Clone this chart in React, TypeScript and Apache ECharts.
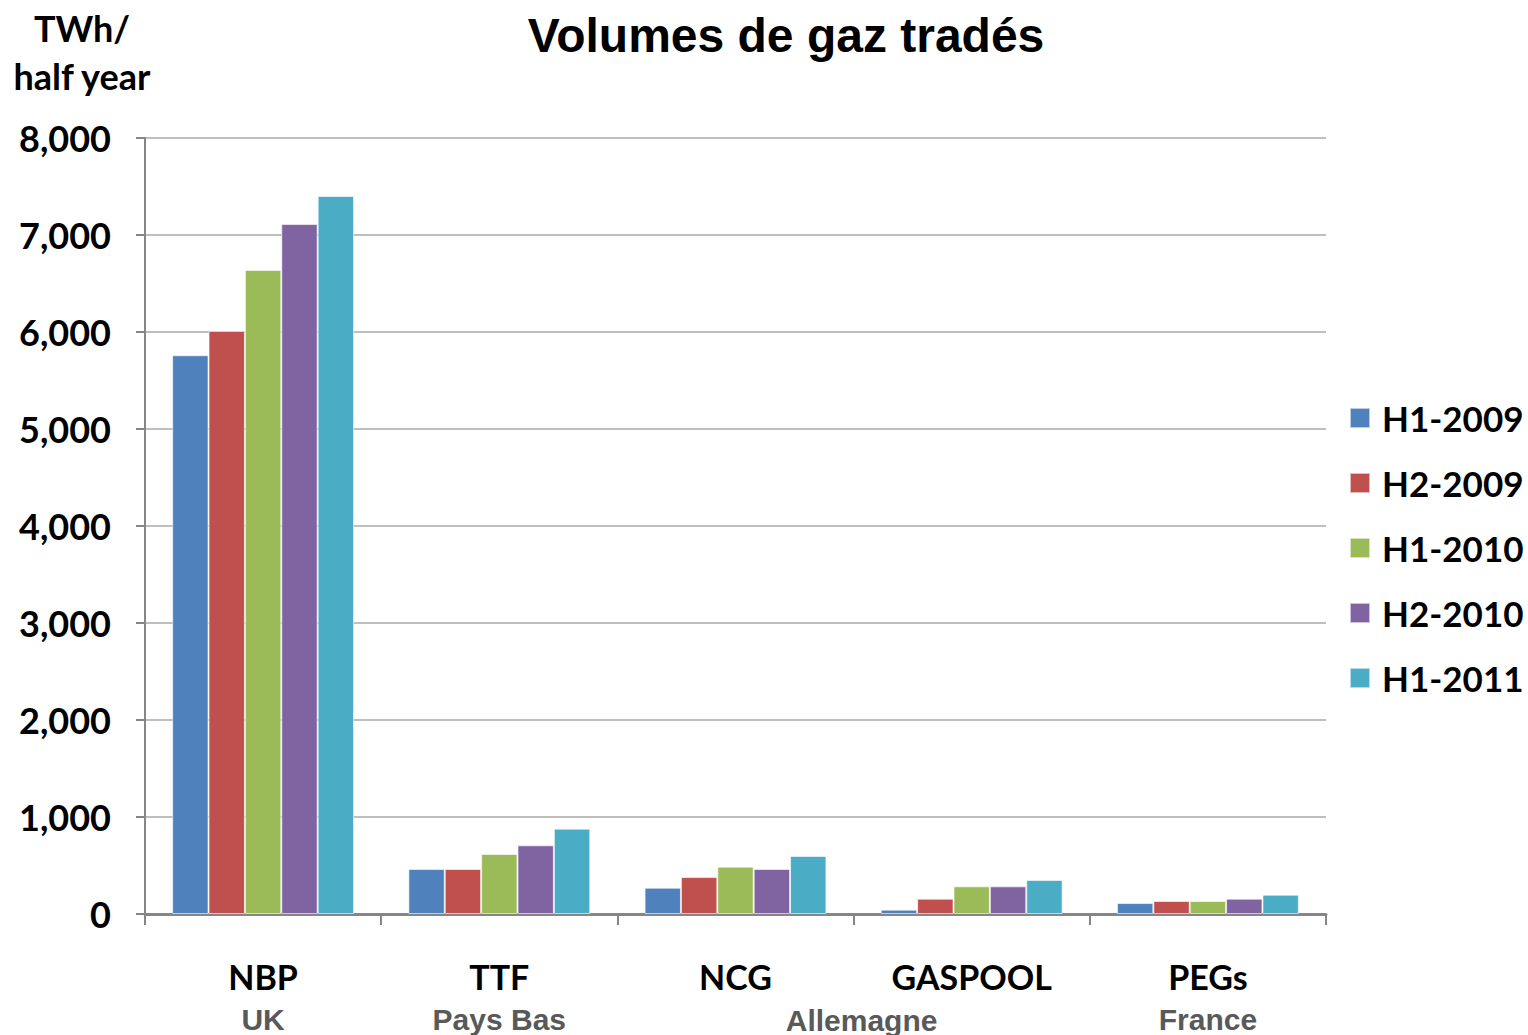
import React, { useEffect, useRef } from "react";
import * as echarts from "echarts";

const categories = ["NBP", "TTF", "NCG", "GASPOOL", "PEGs"];
const countries = ["UK", "Pays Bas", "", "", "France"];
const sharedCountry = "Allemagne";
const seriesNames = ["H1-2009", "H2-2009", "H1-2010", "H2-2010", "H1-2011"];
const colors = ["#4F81BD", "#C0504D", "#9BBB59", "#8064A2", "#4BACC6"];
const h1_2009 = [5760, 464, 271, 45, 113];
const h2_2009 = [6010, 464, 381, 158, 134];
const h1_2010 = [6640, 619, 488, 285, 134];
const h2_2010 = [7113, 708, 464, 285, 158];
const h1_2011 = [7402, 880, 598, 350, 199];
const seriesValues = [h1_2009, h2_2009, h1_2010, h2_2010, h1_2011];
const yTicks = { min: 0, max: 8000, interval: 1000 };

const bodyFont = "Lato, 'Open Sans', sans-serif";
const subFont = "'Liberation Sans Narrow', 'Liberation Sans', Arial, sans-serif";

export default function App() {
  const ref = useRef<HTMLDivElement>(null);
  useEffect(() => {
    document.body.style.margin = "0";
    const chart = echarts.init(ref.current!, null, { renderer: "svg" });
    chart.setOption({
      animation: false,
      backgroundColor: "#ffffff",
      title: {
        text: "Volumes de gaz tradés",
        left: 781,
        textAlign: "center",
        top: 6,
        textStyle: { fontFamily: "'Liberation Sans', Arial, sans-serif", fontWeight: "bold", fontSize: 48, color: "#000" },
      },
      grid: { left: 145, right: 202, top: 138, bottom: 121, containLabel: false },
      legend: {
        orient: "vertical",
        left: 1344,
        top: 395,
        itemWidth: 20,
        itemHeight: 20,
        itemGap: 29,
        icon: "rect",
        data: seriesNames,
        textStyle: { fontFamily: bodyFont, fontWeight: "bold", fontSize: 35, color: "#000", lineHeight: 36, padding: [0, 0, 0, 7] },
      },
      xAxis: {
        type: "category",
        data: categories,
        axisLine: { lineStyle: { color: "#868686", width: 3 } },
        axisTick: { show: true, length: 11, lineStyle: { color: "#868686", width: 2 } },
        axisLabel: {
          interval: 0,
          margin: 40,
          formatter: (v: string, i: number) => `{a|${v}}\n{b|${countries[i] || " "}}`,
          rich: {
            a: { fontFamily: bodyFont, fontWeight: "bold", fontSize: 34, color: "#000", lineHeight: 44 },
            b: { fontFamily: subFont, fontWeight: "bold", fontSize: 30, color: "#595959", lineHeight: 42 },
          },
        },
      },
      yAxis: {
        type: "value",
        min: yTicks.min,
        max: yTicks.max,
        interval: yTicks.interval,
        axisLine: { show: true, lineStyle: { color: "#868686", width: 2 } },
        axisTick: { show: true, length: 9, lineStyle: { color: "#868686", width: 2 } },
        splitLine: { lineStyle: { color: "#BFBFBF", width: 2 } },
        axisLabel: {
          margin: 34,
          fontFamily: bodyFont,
          fontWeight: "bold",
          fontSize: 36,
          color: "#000",
          formatter: (v: number) => v.toLocaleString("en-US"),
        },
      },
      series: seriesNames.map((name, i) => ({
        name,
        type: "bar",
        data: seriesValues[i],
        barGap: "0%",
        barCategoryGap: "23%",
        itemStyle: { color: colors[i], borderColor: "rgba(255,255,255,0.6)", borderWidth: 1 },
      })),
    });
    const p1 = chart.convertToPixel({ xAxisIndex: 0 }, 2) as number;
    const p2 = chart.convertToPixel({ xAxisIndex: 0 }, 3) as number;
    chart.setOption({
      graphic: [
        {
          type: "text",
          x: 82,
          y: 28,
          style: { text: "TWh/", fontFamily: bodyFont, fontWeight: "bold", fontSize: 36, fill: "#000", align: "center", verticalAlign: "middle" },
        },
        {
          type: "text",
          x: 82,
          y: 76,
          style: { text: "half year", fontFamily: bodyFont, fontWeight: "bold", fontSize: 36, fill: "#000", align: "center", verticalAlign: "middle" },
        },
        {
          type: "text",
          x: (p1 + p2) / 2 + 8,
          y: 1020,
          style: {
            text: sharedCountry,
            fontFamily: subFont,
            fontWeight: "bold",
            fontSize: 30,
            fill: "#595959",
            align: "center",
            verticalAlign: "middle",
          },
        },
      ],
    });
    return () => chart.dispose();
  }, []);
  return <div ref={ref} style={{ width: 1528, height: 1035 }} />;
}
